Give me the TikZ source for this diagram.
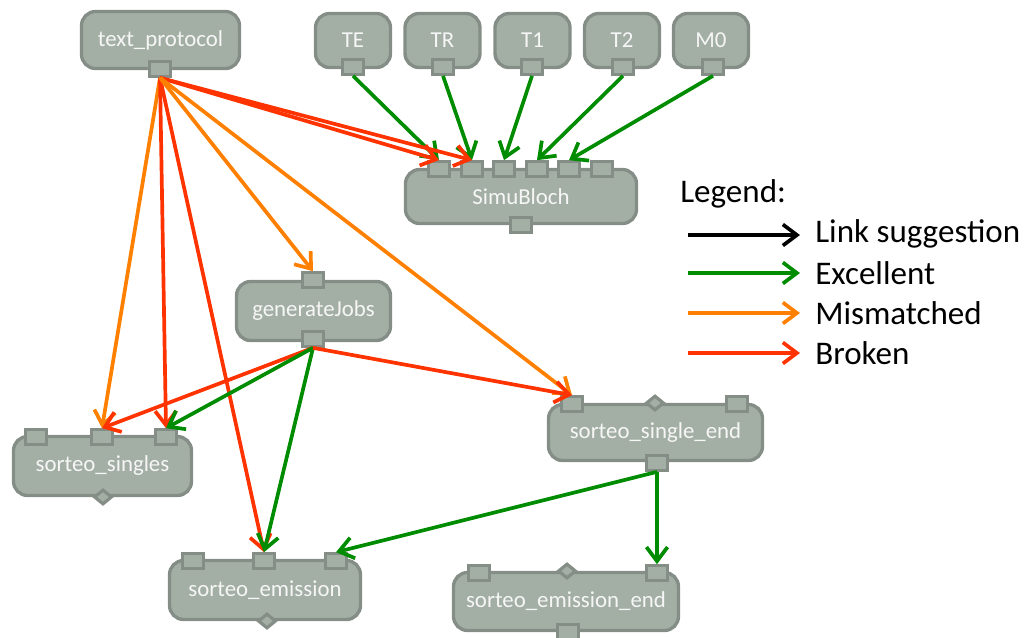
\documentclass[tikz,border=0pt]{standalone}
\usepackage{fontspec}
\setmainfont{Carlito}
\usetikzlibrary{arrows.meta,shapes.geometric}
\definecolor{boxfill}{HTML}{A3AFA5}
\definecolor{boxline}{HTML}{848E87}
\definecolor{cgreen}{HTML}{008C00}
\definecolor{corange}{HTML}{FF8000}
\definecolor{cred}{HTML}{FF3300}
\definecolor{boxtext}{HTML}{F6F6F6}
\tikzset{
  box/.style={draw=boxline, fill=boxfill, line width=1.9pt, rounded corners=8pt,
    inner sep=0pt, text=boxtext, font=\fontsize{13}{15}\selectfont},
  port/.style={draw=boxline, fill=boxfill, line width=1.8pt, inner sep=0pt,
    minimum width=0.42cm, minimum height=0.29cm},
  dia/.style={draw=boxline, fill=boxfill, line width=1.8pt, diamond, inner sep=0pt,
    minimum width=0.36cm, minimum height=0.30cm},
  link/.style={line width=2.1pt, -{Straight Barb[length=8pt,width=12pt]}},
  exc/.style={link, draw=cgreen},
  mis/.style={link, draw=corange},
  brk/.style={link, draw=cred},
  sug/.style={link, draw=black},
  legtext/.style={anchor=west, font=\fontsize{18.8}{22}\selectfont, inner sep=0pt}
}
\begin{document}
\begin{tikzpicture}[x=0.02cm,y=-0.02cm]
\useasboundingbox (0,0) rectangle (1025,637);
% boxes
\node[box, minimum width=3.16cm, minimum height=1.14cm] (tp) at (160.5,40) {text\_protocol};
\node[box, minimum width=1.50cm, minimum height=1.08cm] (te) at (353,40.5) {TE};
\node[box, minimum width=1.50cm, minimum height=1.08cm] (tr) at (442.5,40.5) {TR};
\node[box, minimum width=1.50cm, minimum height=1.08cm] (t1) at (532.5,40.5) {T1};
\node[box, minimum width=1.50cm, minimum height=1.08cm] (t2) at (622,40.5) {T2};
\node[box, minimum width=1.50cm, minimum height=1.08cm] (m0) at (711,40.5) {M0};
\node[box, minimum width=4.62cm, minimum height=1.08cm] (sb) at (521,196.5) {SimuBloch};
\node[box, minimum width=3.08cm, minimum height=1.18cm] (gj) at (313.5,311) {generateJobs};
\node[box, minimum width=3.56cm, minimum height=1.18cm] (ss) at (102.5,466) {sorteo\_singles};
\node[box, minimum width=4.28cm, minimum height=1.12cm] (sse) at (655.5,432.5) {sorteo\_single\_end};
\node[box, minimum width=3.82cm, minimum height=1.18cm] (se) at (265,590) {sorteo\_emission};
\node[box, minimum width=4.50cm, minimum height=1.16cm] (see) at (566,601.5) {sorteo\_emission\_end};
% ports
\node[port] (tpo) at (160,69) {};
\node[port] (teo) at (353,67) {};
\node[port] (tro) at (443,67) {};
\node[port] (t1o) at (532,67) {};
\node[port] (t2o) at (623,67) {};
\node[port] (m0o) at (713,67) {};
\node[port] (sb1) at (439,169) {};
\node[port] (sb2) at (472,169) {};
\node[port] (sb3) at (504,169) {};
\node[port] (sb4) at (537,169) {};
\node[port] (sb5) at (569,169) {};
\node[port] (sb6) at (602,169) {};
\node[port] (sbo) at (521,225) {};
\node[port] (gji) at (313,280) {};
\node[port] (gjo) at (313,339) {};
\node[port] (ss1) at (36,437) {};
\node[port] (ss2) at (102,437) {};
\node[port] (ss3) at (166,437) {};
\node[dia] (ssd) at (103,497) {};
\node[port] (sse1) at (572,404) {};
\node[port] (sse2) at (737,404) {};
\node[dia] (ssed) at (655,403) {};
\node[port] (sseo) at (657,463) {};
\node[port] (se1) at (193,561) {};
\node[port] (se2) at (264,561) {};
\node[port] (se3) at (336,561) {};
\node[dia] (sed) at (267,621) {};
\node[port] (see1) at (479,573) {};
\node[port] (see2) at (657,573) {};
\node[dia] (seed) at (567,571) {};
\node[port] (seeo) at (568,632) {};
% links
\draw[exc] (teo.south) -- (sb1.north);
\draw[exc] (tro.south) -- (sb2.north);
\draw[exc] (t1o.south) -- (sb3.north);
\draw[exc] (t2o.south) -- (sb4.north);
\draw[exc] (m0o.south) -- (sb5.north);
\draw[brk] (tpo.south) -- (sb1.north);
\draw[brk] (tpo.south) -- (sb2.north);
\draw[mis] (tpo.south) -- (ss2.north);
\draw[brk] (tpo.south) -- (ss3.north);
\draw[brk] (tpo.south) -- (se2.north);
\draw[mis] (tpo.south) -- (gji.north);
\draw[mis] (tpo.south) -- (sse1.north);
\draw[brk] (gjo.south) -- (ss2.north);
\draw[exc] (gjo.south) -- (ss3.north);
\draw[exc] (gjo.south) -- (se2.north);
\draw[brk] (gjo.south) -- (sse1.north);
\draw[exc] (sseo.south) -- (se3.north);
\draw[exc] (sseo.south) -- (see2.north);
% legend
\node[legtext] (legend) at (680,194) {Legend:};
\coordinate (l1a) at (688,235); \coordinate (l1b) at (800,235);
\coordinate (l2a) at (688,273); \coordinate (l2b) at (800,273);
\coordinate (l3a) at (688,313); \coordinate (l3b) at (800,313);
\coordinate (l4a) at (688,353); \coordinate (l4b) at (800,353);
\draw[sug] (l1a) -- (l1b);
\draw[exc] (l2a) -- (l2b);
\draw[mis] (l3a) -- (l3b);
\draw[brk] (l4a) -- (l4b);
\node[legtext] (lt1) at (815,234) {Link suggestion};
\node[legtext] (lt2) at (815,273) {Excellent};
\node[legtext] (lt3) at (815,313) {Mismatched};
\node[legtext] (lt4) at (815,353) {Broken};
\end{tikzpicture}
\end{document}
